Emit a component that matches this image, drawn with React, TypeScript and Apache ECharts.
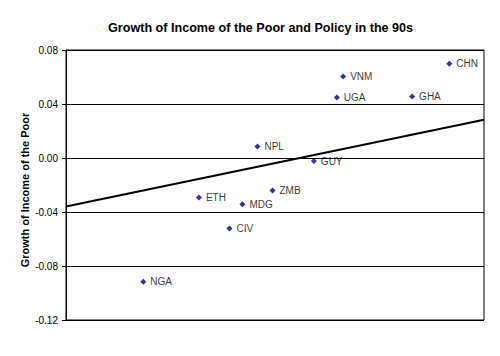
import React, { useEffect, useRef } from "react";
import * as echarts from "echarts";

const countries = ["CHN", "VNM", "UGA", "GHA", "NPL", "GUY", "ZMB", "ETH", "MDG", "CIV", "NGA"];
const policy = [91.7, 66.3, 64.8, 82.8, 45.8, 59.3, 49.4, 31.8, 42.2, 39.1, 18.5];
const growth = [0.0698, 0.0604, 0.0449, 0.0456, 0.0085, -0.0023, -0.0241, -0.0293, -0.0342, -0.0523, -0.0916];
const trendX = [0, 100];
const trendY = [-0.036, 0.0283];
const yAxisTitle = "Growth of Income of the Poor";

const FONT = 'Arial, "Liberation Sans", sans-serif';

export default function App() {
  const ref = useRef<HTMLDivElement>(null);
  useEffect(() => {
    if (!ref.current) return;
    const chart = echarts.init(ref.current, null, { renderer: "svg" });
    chart.setOption({
      animation: false,
      backgroundColor: "#ffffff",
      title: {
        text: "Growth of Income of the Poor and Policy in the 90s",
        left: 103,
        top: 16,
        textStyle: { fontFamily: FONT, fontSize: 12.6, fontWeight: "bold", color: "#000" },
      },
      graphic: [
        {
          type: "text",
          x: 25,
          y: 190,
          rotation: Math.PI / 2,
          style: {
            text: yAxisTitle,
            fontFamily: FONT,
            fontSize: 11,
            fontWeight: "bold",
            fill: "#000",
            align: "center",
            verticalAlign: "middle",
          },
        },
      ],
      grid: {
        left: 66,
        right: 16,
        top: 50,
        bottom: 36,
        show: true,
        borderColor: "#000",
        borderWidth: 1,
        backgroundColor: "transparent",
      },
      xAxis: {
        type: "value",
        min: 0,
        max: 100,
        axisLine: { show: true, lineStyle: { color: "#000" } },
        axisTick: { show: false },
        axisLabel: { show: false },
        splitLine: { show: false },
      },
      yAxis: {
        type: "value",
        min: -0.12,
        max: 0.08,
        interval: 0.04,
        axisLine: { show: true, lineStyle: { color: "#000" } },
        axisTick: { show: true, length: 4, lineStyle: { color: "#000" } },
        axisLabel: {
          fontFamily: FONT,
          fontSize: 10,
          color: "#000",
          margin: 8,
          formatter: (v: number) => (Math.abs(v) < 1e-9 ? "0.00" : v.toFixed(2)),
        },
        splitLine: { show: true, lineStyle: { color: "#000", width: 1 } },
      },
      series: [
        {
          type: "scatter",
          symbol: "diamond",
          symbolSize: 6,
          itemStyle: { color: "#000080" },
          data: countries.map((c, i) => ({ name: c, value: [policy[i], growth[i]] })),
          label: {
            show: true,
            position: "right",
            distance: 4,
            formatter: (p: any) => p.name,
            fontFamily: FONT,
            fontSize: 10,
            color: "#000",
          },
        },
        {
          type: "line",
          data: trendX.map((x, i) => [x, trendY[i]]),
          showSymbol: false,
          symbol: "none",
          lineStyle: { color: "#000", width: 2 },
          z: 1,
        },
      ],
    });
    return () => chart.dispose();
  }, []);
  return <div ref={ref} style={{ position: "fixed", left: 0, top: 0, width: 500, height: 356 }} />;
}
